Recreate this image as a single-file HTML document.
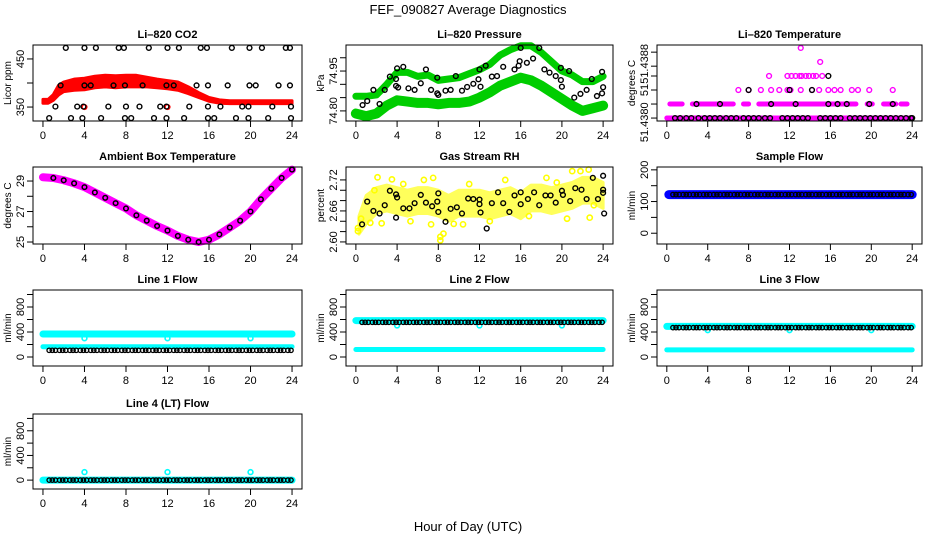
<!DOCTYPE html>
<html><head><meta charset="utf-8"><style>
html,body{margin:0;padding:0;background:#fff}
svg{display:block;font-family:"Liberation Sans",sans-serif}
</style></head><body>
<svg id="chart" width="936" height="540" viewBox="0 0 936 540">
<text x="468" y="14" text-anchor="middle" font-size="13">FEF_090827  Average Diagnostics</text>
<text x="468" y="531" text-anchor="middle" font-size="13">Hour of Day (UTC)</text>
</svg>
<script>
// ---------- data ----------
const xTicks=[0,4,8,12,16,20,24];
const flowHours=[0.6,0.9,1.2,1.6,1.9,2.2,2.6,2.9,3.2,3.6,3.9,4.2,4.6,4.9,5.2,5.6,5.9,6.2,6.6,6.9,7.2,7.6,7.9,8.2,8.6,8.9,9.2,9.6,9.9,10.2,10.6,10.9,11.2,11.6,11.9,12.2,12.6,12.9,13.2,13.6,13.9,14.2,14.6,14.9,15.2,15.6,15.9,16.2,16.6,16.9,17.2,17.6,17.9,18.2,18.6,18.9,19.2,19.6,19.9,20.2,20.6,20.9,21.2,21.6,21.9,22.2,22.6,22.9,23.2,23.6,23.9];
// CO2
const co2BandHours=[0,0.5,1,1.5,2,3,4,5,6,7,8,9,10,11,12,13,14,15,16,17,18,20,22,24];
const co2Upper=[366,366,376,395,402,408,410,414,416,415,416,416,412,408,405,402,392,380,370,365,363,363,363,363];
const co2Lower=[358,358,364,375,382,385,386,390,392,390,392,392,392,390,388,385,378,370,362,358,357,357,357,357];
const co2RedHours=[4,12];
const co2RedVals=[350,350];
const co2BlackHours=[2.2,4,5.1,7.3,7.8,10.2,12,13.1,15.2,15.8,18.2,19.9,21.1,23.4,23.8, 1.7,4,4.6,6.8,7.9,9.6,11.9,12.6,14.8,15.9,17.8,19.9,20.5,22.7,23.8, 1.2,3.3,3.9,6.3,8,9.3,11.3,11.9,14.1,15.9,17.1,19.2,19.8,22.1,23.9, 0.6,2.7,3.8,5.6,7.9,8.5,10.7,11.9,13.6,15.9,16.5,18.6,19.8,21.7,23.9];
const co2BlackVals=[473,473,473,473,473,473,473,473,473,473,473,473,473,473,473, 395,395,395,395,395,395,395,395,395,395,395,395,395,395,395, 351,351,351,351,351,351,351,351,351,351,351,351,351,351,351, 327,327,327,327,327,327,327,327,327,327,327,327,327,327,327];
// Pressure
const presHours=[0,1,2,3,4,5,6,7,8,9,10,11,12,13,14,15,16,17,18,19,20,21,22,23,24];
const presUpper=[74.855,74.855,74.86,74.90,74.945,74.945,74.93,74.935,74.915,74.92,74.925,74.94,74.955,74.975,75.01,75.03,75.045,75.045,75.02,74.985,74.95,74.935,74.91,74.91,74.93];
const presLower=[74.79,74.78,74.79,74.82,74.84,74.835,74.83,74.83,74.825,74.83,74.83,74.835,74.85,74.87,74.895,74.91,74.925,74.915,74.895,74.87,74.845,74.82,74.80,74.81,74.82];
const presBlackHours=[0.65,1.1,1.7,2.3,2.8,3.3,3.9,4,3.9,4.1,4.6,5.1,5.7,6.3,6.8,7.3,7.9,7.9,8,8.7,9.2,9.7,10.3,10.8,11.4,11.9,12,12.1,12.6,13.2,13.7,14.3,15.4,15.8,15.9,16,16.6,17.2,17.8,18.3,18.8,19.4,19.9,19.9,20,20.7,21.2,21.8,22.4,22.9,23.4,23.9,23.9,24];
const presBlackVals=[74.822,74.837,74.879,74.826,74.879,74.929,74.92,74.96,74.894,74.888,74.966,74.885,74.879,74.904,74.956,74.879,74.925,74.866,74.86,74.876,74.879,74.931,74.876,74.89,74.902,74.919,74.956,74.891,74.97,74.929,74.931,74.966,74.956,74.97,74.987,75.037,74.981,74.997,75.037,74.956,74.944,74.931,74.916,74.962,74.891,74.95,74.85,74.864,74.879,74.92,74.856,74.866,74.947,74.889];
// Li-820 temperature (levels)
const tempL0Range=[0,24];
const tempL1Ranges=[[0.3,1.5],[2.5,6.5],[7.5,8],[9,18.5],[19.6,20.1],[21.2,22.4],[22.9,23.5]];
const tempMagHours=[7,8,9.2,10.2,11,11.8,12.1,13.1,14.2,14.9,15.8,16.4,17,18.1,18.7,19.8,22.1, 10,11.8,12.2,12.6,13,13.2,13.6,13.9,14.3,14.6,15.2, 15, 13.1];
const tempMagVals=[51.4382,51.4382,51.4382,51.4382,51.4382,51.4382,51.4382,51.4382,51.4382,51.4382,51.4382,51.4382,51.4382,51.4382,51.4382,51.4382,51.4382, 51.4383,51.4383,51.4383,51.4383,51.4383,51.4383,51.4383,51.4383,51.4383,51.4383,51.4383, 51.4384, 51.4385];
const tempBlackHours=[0.8,1.3,1.9,2.4,3.1,3.7,4.2,4.7,5.2,5.8,6.3,6.8,7.5,8,8.5,9,9.6,10.1,11.3,11.8,12.3,12.8,13.3,13.8,15,15.5,16,16.5,17,17.9,18.4,18.9,19.4,19.9,20.4,20.9,21.4,21.9,22.4,22.9,23.4,23.9,24, 2.9,5.2,10.2,12.6,15.8,16.7,17.6,19.8,22.1, 8,12,14.2, 15.8];
const tempBlackVals=[51.438,51.438,51.438,51.438,51.438,51.438,51.438,51.438,51.438,51.438,51.438,51.438,51.438,51.438,51.438,51.438,51.438,51.438,51.438,51.438,51.438,51.438,51.438,51.438,51.438,51.438,51.438,51.438,51.438,51.438,51.438,51.438,51.438,51.438,51.438,51.438,51.438,51.438,51.438,51.438,51.438,51.438,51.438, 51.4381,51.4381,51.4381,51.4381,51.4381,51.4381,51.4381,51.4381,51.4381, 51.4382,51.4382,51.4382, 51.4383];
// Ambient box temperature
const ambHours=[0,1,2,3,4,5,6,7,8,9,10,11,12,13,14,15,16,17,18,19,20,21,22,23,24];
const ambVals=[29.25,29.2,29.05,28.85,28.6,28.25,27.9,27.55,27.2,26.75,26.4,26.05,25.75,25.4,25.15,25.0,25.15,25.5,25.95,26.4,27.0,27.8,28.5,29.2,29.75];
// Gas stream RH
const rhBandHours=[0.3,1,2,3,4,5,6,7,8,9,10,11,12,13,14,15,16,17,18,19,20,21,22,23,24];
const rhUpper=[2.65,2.69,2.705,2.71,2.705,2.70,2.705,2.705,2.70,2.69,2.70,2.70,2.70,2.695,2.70,2.705,2.695,2.71,2.71,2.705,2.71,2.715,2.725,2.725,2.715];
const rhLower=[2.615,2.635,2.655,2.66,2.655,2.65,2.655,2.655,2.65,2.64,2.65,2.65,2.65,2.645,2.65,2.655,2.645,2.66,2.66,2.655,2.66,2.665,2.675,2.675,2.665];
const rhYellowHours=[0.2,0.2,2.1,2.5,3.5,1.4,7.5,7.3,8.2,8.2,8.5,10.4,6.6,18.5,21,21.8,22.7,23.1,22.6,0.5,1.8,4.6,5.3,9.5,11,13,14.5,16.8,19.5,20.5];
const rhYellowVals=[2.627,2.621,2.725,2.636,2.721,2.637,2.724,2.634,2.61,2.603,2.616,2.634,2.72,2.724,2.737,2.737,2.647,2.671,2.74,2.645,2.70,2.712,2.64,2.635,2.712,2.64,2.72,2.65,2.715,2.645];
const rhBlackHours=[0.6,1.1,1.7,2.3,2.8,3.3,3.9,3.9,4,4.6,5.2,5.7,6.3,6.8,7.4,7.9,8,8,8.7,9.2,9.8,10.3,10.9,11.4,12,12,12.1,12.7,13.2,13.8,14.3,14.9,15.4,16,16,16.7,17.3,17.8,18.4,18.9,19.4,20,20.1,20.8,21.3,21.9,22.4,23,23.5,24,24,24,24.1];
const rhBlackVals=[2.634,2.678,2.66,2.655,2.671,2.699,2.647,2.692,2.686,2.665,2.665,2.675,2.691,2.676,2.669,2.678,2.694,2.658,2.639,2.664,2.667,2.655,2.684,2.683,2.682,2.673,2.657,2.626,2.675,2.696,2.675,2.658,2.69,2.696,2.673,2.683,2.696,2.671,2.69,2.69,2.676,2.699,2.691,2.679,2.704,2.701,2.683,2.724,2.683,2.728,2.701,2.695,2.655];
// Sample flow
const sampleBandHours=[0.2,24];
const sampleBandVals=[122,122];
const sampleBlackLevel=[122];
// Line flows
const line1High=[368], line1Low=[165], line1Black=[107], line1DipHours=[4,12,20], line1DipVals=[300,300,300];
const line2High=[583], line2Low=[120], line2Black=[555], line2DipHours=[4,12,20], line2DipVals=[505,505,505];
const line3High=[490], line3Low=[115], line3Black=[470], line3DipHours=[4,12,20], line3DipVals=[430,430,430];
const line4Base=[0], line4Black=[0], line4DipHours=[4,12,20], line4DipVals=[130,130,130];

// ---------- rendering ----------
const NS='http://www.w3.org/2000/svg';
const svg=document.getElementById('chart');
function mk(tag,attrs,parent){const e=document.createElementNS(NS,tag);for(const k in attrs)e.setAttribute(k,attrs[k]);(parent||svg).appendChild(e);return e;}
const cols=[[33,302],[346,613],[657,922]];
const rows=[[45,121],[167,244],[290,366],[414,489]];

function makePanel(name,c,r,ymin,ymax,title,ytitle,yticks,ylabels){
  const [x0,x1]=cols[c],[y0,y1]=rows[r];
  const g=mk('g',{});
  
  
  const xs=h=>x0+(h+0.96)/25.92*(x1-x0);
  const ys=v=>y1-(v-ymin)/(ymax-ymin)*(y1-y0);
  const t=mk('text',{x:(x0+x1)/2,y:y0-7,'text-anchor':'middle','font-size':11,'font-weight':'bold'},g);
  t.textContent=title;
  
  
  const yt=mk('text',{transform:`translate(${x0-22},${(y0+y1)/2}) rotate(-90)`,'text-anchor':'middle','font-size':10},g);
  yt.textContent=ytitle;
  
  
  const plot=mk('g',{},g);
  
  
  const ax=mk('g',{stroke:'#000','stroke-width':1},g);
  
  
  mk('rect',{x:x0,y:y0,width:x1-x0,height:y1-y0,fill:'none'},ax);
  xTicks.forEach(h=>{
    mk('line',{x1:xs(h),x2:xs(h),y1:y1,y2:y1+6},ax);
    const l=mk('text',{x:xs(h),y:y1+18,'text-anchor':'middle','font-size':11,stroke:'none'},g);
    l.textContent=h;
    
    
  });
  yticks.forEach(v=>mk('line',{x1:x0-6,x2:x0,y1:ys(v),y2:ys(v)},ax));
  ylabels.forEach(([v,s])=>{
    const l=mk('text',{transform:`translate(${x0-9},${ys(v)}) rotate(-90)`,'text-anchor':'middle','font-size':11},g);
    l.textContent=s;
    
    
  });
  return {xs,ys,plot};
}
function circles(p,hs,vs,color,name,r,sw){
  const g=mk('g',{fill:'none',stroke:color,'stroke-width':sw||1.4},p.plot);
  
  
  hs.forEach((h,i)=>mk('circle',{cx:p.xs(h),cy:p.ys(vs[i]),r:r||2.4},g));
}
function line(p,hs,vs,color,w,name){
  const el=mk('polyline',{points:hs.map((h,i)=>p.xs(h)+','+p.ys(vs[i])).join(' '),fill:'none',stroke:color,'stroke-width':w,'stroke-linejoin':'round','stroke-linecap':'round'},p.plot);
  
  
}
function band(p,hs,up,lo,color,name,op){
  const pts=hs.map((h,i)=>p.xs(h)+','+p.ys(up[i])).concat(hs.slice().reverse().map((h,j)=>p.xs(h)+','+p.ys(lo[hs.length-1-j])));
  const el=mk('polygon',{points:pts.join(' '),fill:color,stroke:color,'stroke-width':3,'stroke-linejoin':'round',opacity:op||1},p.plot);
  
  
}

// CO2
let p=makePanel('co2',0,0,321,479,'Li\u2013820 CO2','Licor ppm',[350,400,450],[[350,'350'],[450,'450']]);
band(p,co2BandHours,co2Upper,co2Lower,'#ff0000','co2-red-series');
circles(p,co2RedHours,co2RedVals,'#ff0000','co2-red-points');
circles(p,co2BlackHours,co2BlackVals,'#000','co2-black-series');
// Pressure
p=makePanel('pressure',1,0,74.762,75.048,'Li\u2013820 Pressure','kPa',[74.80,74.85,74.90,74.95,75.00],[[74.80,'74.80'],[74.95,'74.95']]);
line(p,presHours,presUpper,'#00cd00',7,'pressure-green-upper');
line(p,presHours,presLower,'#00cd00',10,'pressure-green-lower');
circles(p,presBlackHours,presBlackVals,'#000','pressure-black-series');
// Li-820 temperature
p=makePanel('li820-temp',2,0,51.437979,51.438521,'Li\u2013820 Temperature','degrees C',[51.4380,51.4381,51.4382,51.4383,51.43837,51.43847],[[51.43797,'51.4380'],[51.4382,'51'],[51.438386,'51.4388']]);
line(p,tempL0Range,[51.4380,51.4380],'#ff00ff',5,'temp-magenta-level0');
tempL1Ranges.forEach(rg=>line(p,rg,[51.4381,51.4381],'#ff00ff',5,'temp-magenta-level1'));
circles(p,tempMagHours,tempMagVals,'#ff00ff','temp-magenta-points');
circles(p,tempBlackHours,tempBlackVals,'#000','temp-black-series');
// Ambient
p=makePanel('ambient',0,1,24.87,29.92,'Ambient Box Temperature','degrees C',[25,26,27,28,29],[[25,'25'],[27,'27'],[29,'29']]);
line(p,ambHours,ambVals,'#ff00ff',8,'ambient-magenta-series');
circles(p,ambHours.slice(1),ambVals.slice(1),'#000','ambient-black-series',2.3,1.5);
// RH
p=makePanel('rh',1,1,2.596,2.745,'Gas Stream RH','percent',[2.60,2.62,2.64,2.66,2.68,2.70,2.72],[[2.60,'2.60'],[2.66,'2.66'],[2.72,'2.72']]);
band(p,rhBandHours,rhUpper,rhLower,'#ffff33','rh-yellow-band',0.8);
circles(p,rhYellowHours,rhYellowVals,'#ffff00','rh-yellow-points',2.6,1.6);
circles(p,rhBlackHours,rhBlackVals,'#000','rh-black-series');
// Sample flow
p=makePanel('sample-flow',2,1,-34,209,'Sample Flow','ml/min',[0,50,100,150,200],[[0,'0'],[100,'100'],[200,'200']]);
line(p,sampleBandHours,sampleBandVals,'#0000ff',9,'sample-blue-series');
circles(p,flowHours,flowHours.map(()=>sampleBlackLevel[0]),'#000','sample-black-series',2.2,1.3);
// Line flows
const fT=[0,200,400,600,800,1000], fL=[[0,'0'],[400,'400'],[800,'800']];
function flowPanel(name,c,r,title,high,low,black,dh,dv){
  const q=makePanel(name,c,r,-144,1072,title,'ml/min',fT,fL);
  if(high) line(q,[0,24],[high[0],high[0]],'#00ffff',7,name+'-cyan-high');
  if(low) line(q,[0,24],[low[0],low[0]],'#00ffff',5,name+'-cyan-low');
  circles(q,dh,dv,'#00ffff',name+'-cyan-dips',2.4,1.6);
  circles(q,flowHours,flowHours.map(()=>black[0]),'#000',name+'-black-series',2.2,1.3);
}
flowPanel('line1-flow',0,2,'Line 1 Flow',line1High,line1Low,line1Black,line1DipHours,line1DipVals);
flowPanel('line2-flow',1,2,'Line 2 Flow',line2High,line2Low,line2Black,line2DipHours,line2DipVals);
flowPanel('line3-flow',2,2,'Line 3 Flow',line3High,line3Low,line3Black,line3DipHours,line3DipVals);
flowPanel('line4-flow',0,3,'Line 4 (LT) Flow',line4Base,null,line4Black,line4DipHours,line4DipVals);
</script>
</body></html>
